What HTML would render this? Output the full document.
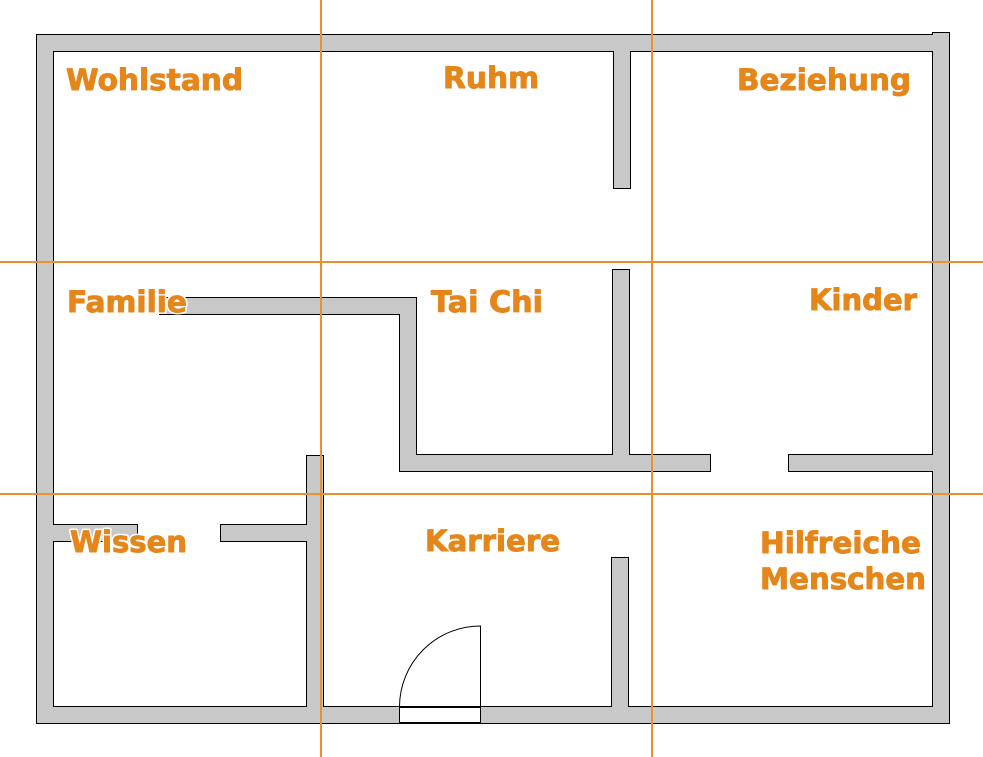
<!DOCTYPE html>
<html><head><meta charset="utf-8"><style>
html,body{margin:0;padding:0;background:#fff;}
svg{display:block;}
text{font-family:"DejaVu Sans","Liberation Sans",sans-serif;font-weight:bold;font-size:29px;fill:#e5861a;}
</style></head><body>
<svg width="983" height="757" viewBox="0 0 983 757" xmlns="http://www.w3.org/2000/svg">
<g fill="#000">
<rect x="36" y="34" width="914" height="18"/>
<rect x="932" y="32" width="18" height="692"/>
<rect x="36" y="34" width="18" height="690"/>
<rect x="36" y="706" width="914" height="18"/>
<rect x="613" y="50" width="18" height="139"/>
<rect x="612" y="269" width="18" height="203"/>
<rect x="399" y="454" width="312" height="18"/>
<rect x="788" y="454" width="146" height="18"/>
<rect x="399" y="297" width="18" height="175"/>
<rect x="159" y="297" width="258" height="18"/>
<rect x="306" y="455" width="18" height="253"/>
<rect x="52" y="524" width="86" height="18"/>
<rect x="220" y="524" width="88" height="18"/>
<rect x="611" y="557" width="18" height="151"/>
</g>
<g fill="#c8c8c8">
<rect x="37" y="35" width="912" height="16"/>
<rect x="933" y="33" width="16" height="690"/>
<rect x="37" y="35" width="16" height="688"/>
<rect x="37" y="707" width="912" height="16"/>
<rect x="614" y="51" width="16" height="137"/>
<rect x="613" y="270" width="16" height="201"/>
<rect x="400" y="455" width="310" height="16"/>
<rect x="789" y="455" width="144" height="16"/>
<rect x="400" y="298" width="16" height="173"/>
<rect x="160" y="298" width="256" height="16"/>
<rect x="307" y="456" width="16" height="251"/>
<rect x="53" y="525" width="84" height="16"/>
<rect x="221" y="525" width="86" height="16"/>
<rect x="612" y="558" width="16" height="149"/>
</g>
<rect x="399.5" y="707.5" width="81" height="15" fill="#fff" stroke="#000" stroke-width="1"/>
<path d="M399.5 707 A81 81 0 0 1 480.5 626 L480.5 707" fill="none" stroke="#000" stroke-width="1"/>
<g stroke="#e8922e" stroke-width="2">
<line x1="321" y1="0" x2="321" y2="757"/>
<line x1="652" y1="0" x2="652" y2="757"/>
<line x1="0" y1="262" x2="983" y2="262"/>
<line x1="0" y1="494" x2="983" y2="494"/>
</g>
<g stroke="#fff" stroke-width="4" paint-order="stroke" stroke-linejoin="round">
<text x="66" y="90" textLength="177" lengthAdjust="spacingAndGlyphs">Wohlstand</text>
<text x="443" y="88" textLength="96" lengthAdjust="spacingAndGlyphs">Ruhm</text>
<text x="737" y="90" textLength="174" lengthAdjust="spacingAndGlyphs">Beziehung</text>
<text x="67" y="312" textLength="120" lengthAdjust="spacingAndGlyphs">Familie</text>
<text x="431" y="312" textLength="112" lengthAdjust="spacingAndGlyphs">Tai Chi</text>
<text x="809" y="310" textLength="108" lengthAdjust="spacingAndGlyphs">Kinder</text>
<text x="70" y="552" textLength="117" lengthAdjust="spacingAndGlyphs">Wissen</text>
<text x="425" y="551" textLength="135" lengthAdjust="spacingAndGlyphs">Karriere</text>
<text x="760" y="553" textLength="161" lengthAdjust="spacingAndGlyphs">Hilfreiche</text>
<text x="760" y="589" textLength="166" lengthAdjust="spacingAndGlyphs">Menschen</text>
</g>
<g stroke="#e5861a" stroke-width="0.9" stroke-linejoin="round">
<text x="66" y="90" textLength="177" lengthAdjust="spacingAndGlyphs">Wohlstand</text>
<text x="443" y="88" textLength="96" lengthAdjust="spacingAndGlyphs">Ruhm</text>
<text x="737" y="90" textLength="174" lengthAdjust="spacingAndGlyphs">Beziehung</text>
<text x="67" y="312" textLength="120" lengthAdjust="spacingAndGlyphs">Familie</text>
<text x="431" y="312" textLength="112" lengthAdjust="spacingAndGlyphs">Tai Chi</text>
<text x="809" y="310" textLength="108" lengthAdjust="spacingAndGlyphs">Kinder</text>
<text x="70" y="552" textLength="117" lengthAdjust="spacingAndGlyphs">Wissen</text>
<text x="425" y="551" textLength="135" lengthAdjust="spacingAndGlyphs">Karriere</text>
<text x="760" y="553" textLength="161" lengthAdjust="spacingAndGlyphs">Hilfreiche</text>
<text x="760" y="589" textLength="166" lengthAdjust="spacingAndGlyphs">Menschen</text>
</g>
</svg>
</body></html>
